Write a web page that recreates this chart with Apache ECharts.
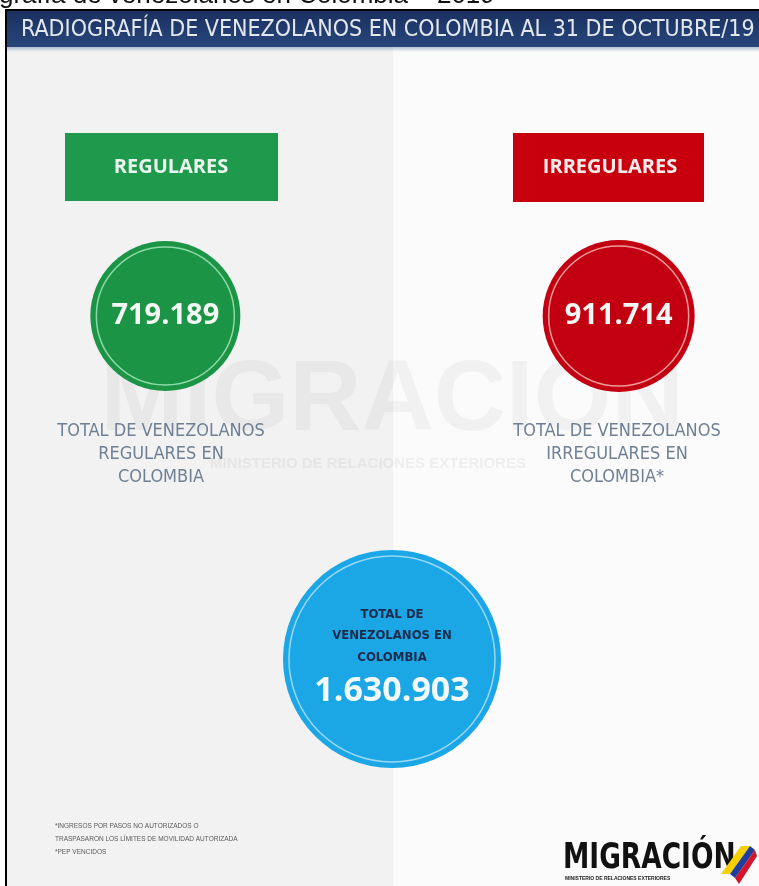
<!DOCTYPE html>
<html>
<head>
<meta charset="utf-8">
<title>Radiografía de venezolanos en Colombia</title>
<script src="https://cdn.jsdelivr.net/npm/echarts@6/dist/echarts.min.js"></script>
<style>
  html, body { margin: 0; padding: 0; background: #fff; }
  #chart { width: 759px; height: 886px; }
</style>
</head>
<body>
<div id="chart"></div>
<script>
// datos de la radiografía (31 de octubre de 2019)
const categories = ['REGULARES', 'IRREGULARES']
const values = [719189, 911714]
const totalLabel = 'TOTAL'
const totalValue = 1630903
const descriptions = [
  'TOTAL DE VENEZOLANOS\nREGULARES EN\nCOLOMBIA',
  'TOTAL DE VENEZOLANOS\nIRREGULARES EN\nCOLOMBIA*'
]
const rows = ['superior', 'inferior']
const colors = ['#1b9446', '#c30011']
const totalColor = '#1ba6e6'

const title = 'RADIOGRAFÍA DE VENEZOLANOS EN COLOMBIA AL 31 DE OCTUBRE/19'
const caption = 'grafía de venezolanos en Colombia – 2019'
const footnote = '*INGRESOS POR PASOS NO AUTORIZADOS O\nTRASPASARON LOS LÍMITES DE MOVILIDAD AUTORIZADA\n*PEP VENCIDOS'

const narrow = "'DejaVu Sans Condensed', 'Liberation Sans Narrow', Arial, sans-serif"
const sans = "'Open Sans', 'Noto Sans', Arial, sans-serif"

// 719189 -> 719.189
const fmt = v => String(v).replace(/\B(?=(\d{3})+(?!\d))/g, '.')

const chart = echarts.init(document.getElementById('chart'), null, { renderer: 'canvas' })

const xCats = [categories[0], totalLabel, categories[1]]
const points = [
  { value: [categories[0], rows[0], values[0]], size: 150, color: colors[0], ring: '#8ed9a5' },
  { value: [categories[1], rows[0], values[1]], size: 152, color: colors[1], ring: '#f19a9a' },
  { value: [totalLabel, rows[1], totalValue], size: 218, color: totalColor, ring: '#9ad8f6' }
]

const option = {
  backgroundColor: '#ffffff',
  animation: false,
  grid: { left: 52, width: 680, top: 144.5, height: 686 },
  xAxis: { type: 'category', data: xCats, show: false },
  yAxis: { type: 'category', data: rows, inverse: true, show: false },
  graphic: [
    // leyenda cortada arriba
    { type: 'text', x: -1, y: 9, z: 1, style: { text: caption, font: '26px Arial, sans-serif', fill: '#111', verticalAlign: 'bottom' } },
    // marco
    { type: 'rect', z: 0, shape: { x: 7, y: 47, width: 386, height: 850 }, style: { fill: '#f2f2f2' } },
    { type: 'rect', z: 0, shape: { x: 393, y: 47, width: 380, height: 850 }, style: { fill: '#fbfbfb' } },
    {
      type: 'rect', z: 1, shape: { x: 7, y: 11, width: 760, height: 36 },
      style: { fill: new echarts.graphic.LinearGradient(0, 0, 0, 1, [{ offset: 0, color: '#1a3060' }, { offset: 1, color: '#28467b' }]) }
    },
    {
      type: 'rect', z: 1, shape: { x: 7, y: 47, width: 760, height: 5 },
      style: { fill: new echarts.graphic.LinearGradient(0, 0, 0, 1, [{ offset: 0, color: 'rgba(60,90,140,0.35)' }, { offset: 1, color: 'rgba(60,90,140,0)' }]) }
    },
    { type: 'rect', z: 2, shape: { x: 6, y: 10, width: 800, height: 900 }, style: { fill: 'none', stroke: '#000', lineWidth: 2 } },
    { type: 'text', x: 21, y: 30, z: 3, style: { text: title, font: '23px ' + narrow, fill: '#e3e7ee', verticalAlign: 'middle' } },
    // marca de agua
    { type: 'text', x: 392, y: 402, z: 1, style: { text: 'MIGRACIÓN', font: 'bold 100px Arial, sans-serif', fill: 'rgba(110,110,110,0.07)', align: 'center', verticalAlign: 'middle' } },
    { type: 'text', x: 368, y: 464, z: 1, style: { text: 'MINISTERIO DE RELACIONES EXTERIORES', font: 'bold 15px Arial, sans-serif', fill: 'rgba(110,110,110,0.09)', align: 'center', verticalAlign: 'middle' } },
    // cajas
    { type: 'rect', z: 3, shape: { x: 65, y: 133, width: 213, height: 68 }, style: { fill: '#1f9a4c' } },
    { type: 'text', x: 171, y: 167, z: 4, style: { text: categories[0], font: 'bold 20px ' + sans, fill: '#eaf6ee', align: 'center', verticalAlign: 'middle' } },
    { type: 'rect', z: 3, shape: { x: 513, y: 133, width: 191, height: 69 }, style: { fill: '#c8000d' } },
    { type: 'text', x: 610, y: 167, z: 4, style: { text: categories[1], font: 'bold 20px ' + sans, fill: '#fbecec', align: 'center', verticalAlign: 'middle' } },
    // descripciones
    { type: 'text', x: 161, y: 420, z: 4, style: { text: descriptions[0], font: '18px ' + narrow, lineHeight: 23, fill: '#6f8095', align: 'center', verticalAlign: 'top' } },
    { type: 'text', x: 617, y: 420, z: 4, style: { text: descriptions[1], font: '18px ' + narrow, lineHeight: 23, fill: '#6f8095', align: 'center', verticalAlign: 'top' } },
    // nota al pie
    { type: 'text', x: 55, y: 820, z: 4, style: { text: footnote, font: '6.5px Arial, sans-serif', lineHeight: 13, fill: '#5a5a5a', verticalAlign: 'top' } },
    // logo
    { type: 'text', x: 563, y: 859, z: 4, scaleX: 0.84, style: { text: 'MIGRACIÓN', font: 'bold 35px ' + narrow, fill: '#111', verticalAlign: 'middle' } },
    { type: 'text', x: 565, y: 879, z: 4, style: { text: 'MINISTERIO DE RELACIONES EXTERIORES', font: 'bold 5px Arial, sans-serif', fill: '#222', verticalAlign: 'middle' } },
    { type: 'polygon', z: 5, shape: { points: [[721, 874], [741, 846], [750, 846], [730, 874]] }, style: { fill: '#f5cf00' } },
    { type: 'polygon', z: 5, shape: { points: [[730, 874], [750, 846], [755, 850], [735, 878]] }, style: { fill: '#203f9c' } },
    { type: 'polygon', z: 5, shape: { points: [[735, 878], [755, 850], [757, 856], [739, 884]] }, style: { fill: '#d2142c' } }
  ],
  series: [
    {
      type: 'scatter',
      z: 5,
      data: points.map(p => ({
        value: p.value,
        symbolSize: p.size,
        itemStyle: { color: p.color, opacity: 1 }
      })),
      label: {
        show: true,
        position: 'inside',
        formatter: p => {
          if (p.value[0] === totalLabel) {
            return '{t|TOTAL DE}\n{t|VENEZOLANOS EN}\n{t|COLOMBIA}\n{v|' + fmt(p.value[2]) + '}'
          }
          return '{n|' + fmt(p.value[2]) + '}'
        },
        rich: {
          n: { fontFamily: sans, fontWeight: 'bold', fontSize: 29, color: '#f4f8f4' },
          t: { fontFamily: narrow, fontWeight: 'bold', fontSize: 13, color: '#1a2b4a', lineHeight: 21.5 },
          v: { fontFamily: sans, fontWeight: 'bold', fontSize: 34, color: '#f4fbff', lineHeight: 46 }
        }
      },
      emphasis: { disabled: true }
    },
    {
      type: 'scatter',
      z: 6,
      silent: true,
      data: points.map(p => ({
        value: p.value,
        symbolSize: p.size - 12,
        itemStyle: { color: 'rgba(0,0,0,0)', borderColor: p.ring, borderWidth: 1.5, opacity: 1 }
      }))
    }
  ]
}

chart.setOption(option)
</script>
</body>
</html>
